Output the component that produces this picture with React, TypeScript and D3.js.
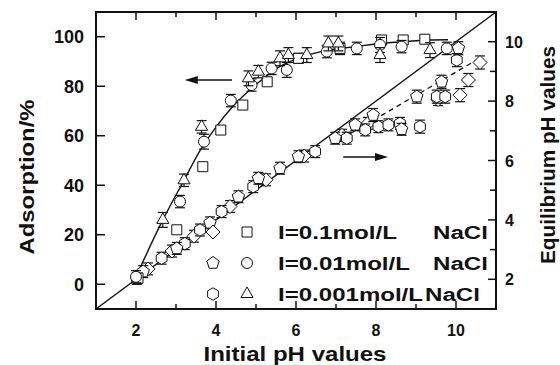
import React from 'react';
import * as d3 from 'd3';

const W = 560;
const H = 365;

// axes
const xMajor = [2, 4, 6, 8, 10];
const xMinor = [3, 5, 7, 9];
const leftTicks = [0, 20, 40, 60, 80, 100];
const rightMajor = [2, 4, 6, 8, 10];
const rightMinor = [3, 5, 7, 9];

// Adsorption (%) vs initial pH
const adsSqPH = [2.05, 3.02, 3.67, 4.12, 4.67, 5.28, 6.06, 7.1, 8.14, 8.68, 9.22];
const adsSqVal = [2.5, 22, 47.5, 62.3, 72.4, 81.8, 91.3, 95.3, 98.7, 98.7, 99];
const adsSqErr = [2, 0, 0, 0, 0, 0, 2, 2.5, 1.5, 1.5, 1.5];

const adsCiPH = [2.0, 3.1, 3.7, 4.37, 4.89, 5.39, 5.77, 6.77, 7.52, 8.1, 8.64, 9.77];
const adsCiVal = [3, 33.4, 57.6, 74.2, 80.5, 87.2, 86.6, 94, 95.3, 96.7, 96, 95.3];
const adsCiErr = [2.5, 2.5, 3, 2.5, 2.5, 2.5, 3, 2.5, 2.5, 3, 2.5, 2.5];

const adsTrPH = [2.67, 3.2, 3.64, 4.81, 5.06, 5.6, 5.81, 6.27, 6.81, 7.06, 8.1, 9.35];
const adsTrVal = [26, 42, 63.6, 83.2, 85.9, 91.3, 92.6, 92.6, 97.3, 97.3, 92.6, 94.6];
const adsTrErr = [3, 2.5, 2.5, 3, 2.5, 3, 3, 3, 3, 3, 3, 3];

// Equilibrium pH vs initial pH
const eqDiPH = [2.3, 2.9, 3.45, 4.35, 5.25, 6.2, 7.15, 7.8, 9.55, 10.1, 10.31, 10.6];
const eqDiVal = [2.35, 2.95, 3.45, 4.45, 5.35, 6.15, 6.85, 7.25, 8.05, 8.2, 8.71, 9.3];
const eqDiErr = [0.2, 0.2, 0.2, 0.2, 0.2, 0.2, 0.2, 0.2, 0.2, 0.22, 0.22, 0.22];

const eqPePH = [2.18, 3.02, 3.85, 4.56, 5.06, 5.6, 6.06, 6.98, 7.48, 7.93, 8.64, 9.02, 9.64, 10.06];
const eqPeVal = [2.26, 3.04, 3.9, 4.78, 5.4, 5.74, 6.13, 6.75, 7.2, 7.53, 7.05, 8.15, 8.65, 9.78];
const eqPeErr = [0.2, 0.2, 0.2, 0.2, 0.2, 0.2, 0.2, 0.2, 0.2, 0.22, 0.2, 0.22, 0.22, 0.22];

const eqHePH = [2.02, 2.64, 3.22, 3.6, 4.14, 4.93, 6.48, 7.27, 7.73, 8.06, 8.31, 8.6, 9.1, 9.52, 9.73, 10.02];
const eqHeVal = [2.03, 2.71, 3.2, 3.66, 4.28, 5.12, 6.3, 6.75, 7.03, 7.14, 7.2, 7.25, 7.14, 8.15, 8.15, 9.38];
const eqHeErr = [0.2, 0.2, 0.2, 0.2, 0.2, 0.2, 0.2, 0.2, 0.2, 0.2, 0.2, 0.2, 0.22, 0.22, 0.22, 0.22];

// fitted adsorption curve
const fitPH = [2.0, 2.67, 3.2, 3.6, 4.0, 4.43, 5.1, 5.6, 6.27, 6.77, 7.5, 8.1, 8.7, 9.3, 9.8];
const fitVal = [3, 26, 42, 54, 63.5, 72, 82, 88, 92.5, 94.5, 96, 97.3, 98, 98.7, 98.8];

// diagonal y = x and dashed trend of equilibrium pH
const diagPH = [1, 11];
const dashPH = [7.35, 10.6];
const dashVal = [6.9, 9.45];

// arrows (data units)
const leftArrowPH = [4.4, 3.22];
const leftArrowVal = 82.5;
const rightArrowPH = [7.18, 8.3];
const rightArrowVal = 6.12;

const legendLabels = ['I=0.1mol/L', 'I=0.01mol/L', 'I=0.001mol/L'];
const legendLabelWidths = [119, 132, 145];

const x = d3.scaleLinear().domain([1, 11]).range([96, 496]);
const yL = d3.scaleLinear().domain([-10, 110]).range([309, 12]);
const yR = d3.scaleLinear().domain([1, 11]).range([309, 12]);

const FONT = "'Liberation Sans', Arial, Helvetica, sans-serif";
const INK = '#111';

function poly(n: number, r: number, rot: number) {
  const pts: string[] = [];
  for (let i = 0; i < n; i++) {
    const a = rot + (i * 2 * Math.PI) / n;
    pts.push(`${(r * Math.cos(a)).toFixed(2)},${(r * Math.sin(a)).toFixed(2)}`);
  }
  return 'M' + pts.join('L') + 'Z';
}

const shapes: Record<string, string> = {
  square: 'M-5,-5h10v10h-10Z',
  circle: 'M-5.5,0a5.5,5.5 0 1,0 11,0a5.5,5.5 0 1,0 -11,0Z',
  triangle: poly(3, 7, -Math.PI / 2),
  diamond: poly(4, 7, -Math.PI / 2),
  pentagon: poly(5, 6.5, -Math.PI / 2),
  hexagon: poly(6, 6.2, -Math.PI / 2),
};

function Series({ xs, ys, errs, yScale, shape }: any) {
  return (
    <g>
      {xs.map((px: number, i: number) => {
        const cx = x(px);
        const e = errs[i];
        if (!e) return null;
        const y1 = yScale(ys[i] - e);
        const y2 = yScale(ys[i] + e);
        return (
          <g key={'e' + i} stroke={INK} strokeWidth={1.2}>
            <line x1={cx} x2={cx} y1={y1} y2={y2} />
            <line x1={cx - 5} x2={cx + 5} y1={y1} y2={y1} />
            <line x1={cx - 5} x2={cx + 5} y1={y2} y2={y2} />
          </g>
        );
      })}
      {xs.map((px: number, i: number) => (
        <path
          key={'m' + i}
          d={shapes[shape]}
          transform={`translate(${x(px)},${yScale(ys[i])})`}
          fill="#fff"
          stroke={INK}
          strokeWidth={1}
        />
      ))}
    </g>
  );
}

export default function App() {
  const fitLine = d3
    .line<number>()
    .x((d) => x(d))
    .y((_, i) => yL(fitVal[i]))
    .curve(d3.curveMonotoneX)(fitPH);

  const la1 = x(leftArrowPH[0]);
  const la2 = x(leftArrowPH[1]);
  const lay = yL(leftArrowVal);
  const ra1 = x(rightArrowPH[0]);
  const ra2 = x(rightArrowPH[1]);
  const ray = yR(rightArrowVal);

  const legendRows = [232, 263, 294];
  const legCol0 = ['diamond', 'pentagon', 'hexagon'];
  const legCol1 = ['square', 'circle', 'triangle'];

  return (
    <svg width={W} height={H} style={{ position: 'absolute', left: 0, top: 0, background: '#fff' }} fontFamily={FONT}>
      <rect x={0} y={0} width={W} height={H} fill="#fff" />
      {/* lines */}
      <line x1={x(diagPH[0])} y1={yR(diagPH[0])} x2={x(diagPH[1])} y2={yR(diagPH[1])} stroke={INK} strokeWidth={1.4} />
      <line x1={x(dashPH[0])} y1={yR(dashVal[0])} x2={x(dashPH[1])} y2={yR(dashVal[1])} stroke={INK} strokeWidth={1.3} strokeDasharray="5,4" />
      <path d={fitLine || ''} fill="none" stroke={INK} strokeWidth={1.4} />

      {/* data */}
      <Series xs={eqDiPH} ys={eqDiVal} errs={eqDiErr} yScale={yR} shape="diamond" />
      <Series xs={eqHePH} ys={eqHeVal} errs={eqHeErr} yScale={yR} shape="hexagon" />
      <Series xs={eqPePH} ys={eqPeVal} errs={eqPeErr} yScale={yR} shape="pentagon" />
      <Series xs={adsSqPH} ys={adsSqVal} errs={adsSqErr} yScale={yL} shape="square" />
      <Series xs={adsCiPH} ys={adsCiVal} errs={adsCiErr} yScale={yL} shape="circle" />
      <Series xs={adsTrPH} ys={adsTrVal} errs={adsTrErr} yScale={yL} shape="triangle" />

      {/* arrows */}
      <line x1={la1} x2={la2 + 10} y1={lay} y2={lay} stroke={INK} strokeWidth={1.5} />
      <path d={`M${la2},${lay}L${la2 + 13},${lay - 4}L${la2 + 13},${lay + 4}Z`} fill={INK} />
      <line x1={ra1} x2={ra2 - 10} y1={ray} y2={ray} stroke={INK} strokeWidth={1.5} />
      <path d={`M${ra2},${ray}L${ra2 - 13},${ray - 4}L${ra2 - 13},${ray + 4}Z`} fill={INK} />

      {/* legend */}
      {legendRows.map((ly, i) => (
        <g key={'lg' + i}>
          <path d={shapes[legCol0[i]]} transform={`translate(213,${ly})`} fill="#fff" stroke={INK} strokeWidth={1} />
          <path d={shapes[legCol1[i]]} transform={`translate(247,${ly})`} fill="#fff" stroke={INK} strokeWidth={1} />
          <text x={278} y={ly + 7} fontSize={18} fontWeight="bold" fill={INK} textLength={legendLabelWidths[i]} lengthAdjust="spacingAndGlyphs">
            {legendLabels[i]}
          </text>
          <text x={i === 2 ? 425 : 433} y={ly + 7} fontSize={18} fontWeight="bold" fill={INK} textLength={55} lengthAdjust="spacingAndGlyphs">
            NaCl
          </text>
        </g>
      ))}

      {/* frame */}
      <rect x={96} y={12} width={400} height={297} fill="none" stroke={INK} strokeWidth={2} />

      {/* bottom & top ticks */}
      {xMajor.map((t) => (
        <g key={'xM' + t} stroke={INK} strokeWidth={1.5}>
          <line x1={x(t)} x2={x(t)} y1={309} y2={301} />
          <line x1={x(t)} x2={x(t)} y1={12} y2={20} />
        </g>
      ))}
      {xMinor.map((t) => (
        <g key={'xm' + t} stroke={INK} strokeWidth={1.5}>
          <line x1={x(t)} x2={x(t)} y1={309} y2={304} />
          <line x1={x(t)} x2={x(t)} y1={12} y2={17} />
        </g>
      ))}
      {xMajor.map((t) => (
        <text key={'xl' + t} x={x(t)} y={336} textAnchor="middle" fontSize={16} fontWeight="bold" fill={INK}>
          {t}
        </text>
      ))}

      {/* left ticks */}
      {leftTicks.map((t) => (
        <g key={'yl' + t}>
          <line x1={96} x2={105} y1={yL(t)} y2={yL(t)} stroke={INK} strokeWidth={1.5} />
          <text x={84} y={yL(t) + 6.5} textAnchor="end" fontSize={18} fontWeight="bold" fill={INK}>
            {t}
          </text>
        </g>
      ))}

      {/* right ticks */}
      {rightMajor.map((t) => (
        <g key={'yr' + t}>
          <line x1={496} x2={488} y1={yR(t)} y2={yR(t)} stroke={INK} strokeWidth={1.5} />
          <text x={505} y={yR(t) + 6} textAnchor="start" fontSize={16} fontWeight="bold" fill={INK}>
            {t}
          </text>
        </g>
      ))}
      {rightMinor.map((t) => (
        <line key={'yrm' + t} x1={496} x2={490} y1={yR(t)} y2={yR(t)} stroke={INK} strokeWidth={1.5} />
      ))}

      {/* axis titles */}
      <text x={295} y={361} textAnchor="middle" fontSize={21} fontWeight="bold" fill={INK} textLength={183} lengthAdjust="spacingAndGlyphs">
        Initial pH values
      </text>
      <text transform="translate(34,177) rotate(-90)" textAnchor="middle" fontSize={21} fontWeight="bold" fill={INK} textLength={155} lengthAdjust="spacingAndGlyphs">
        Adsorption/%
      </text>
      <text transform="translate(555,155) rotate(-90)" textAnchor="middle" fontSize={21} fontWeight="bold" fill={INK} textLength={218} lengthAdjust="spacingAndGlyphs">
        Equilibrium pH values
      </text>
    </svg>
  );
}
